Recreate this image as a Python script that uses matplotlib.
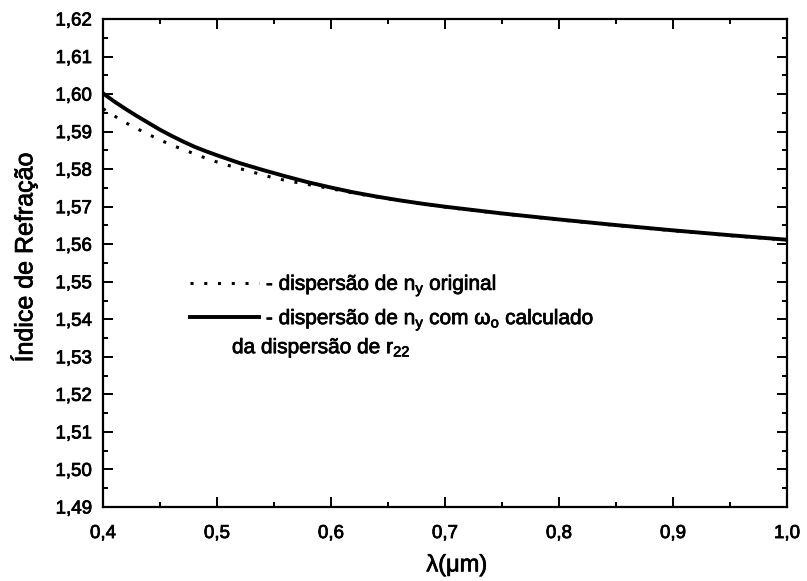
import matplotlib
matplotlib.use("Agg")
import matplotlib.pyplot as plt
import matplotlib.patheffects as pe
from matplotlib.ticker import MultipleLocator, FuncFormatter

plt.rcParams['font.family'] = ['Liberation Sans', 'DejaVu Sans']
plt.rcParams['mathtext.default'] = 'regular'

# dispersão de n_y original (dotted)
lam_orig = [0.400, 0.412, 0.425, 0.437, 0.449, 0.462, 0.474, 0.486, 0.498,
            0.511, 0.523, 0.535, 0.547, 0.560, 0.580, 0.600, 0.620, 0.640,
            0.660, 0.680, 0.700, 0.750, 0.800, 0.850, 0.900, 0.950, 1.000]
n_orig = [1.5961, 1.5938, 1.5915, 1.5897, 1.5879, 1.5862, 1.5848, 1.5834, 1.5821,
          1.5809, 1.5799, 1.5789, 1.5779, 1.5770, 1.5759, 1.5748, 1.5736, 1.5726,
          1.5716, 1.5707, 1.5699, 1.5681, 1.5665, 1.5650, 1.5636, 1.5623, 1.5611]

# dispersão de n_y com omega_o calculado (solid)
lam_calc = [0.40, 0.41, 0.42, 0.43, 0.44, 0.45, 0.46, 0.47, 0.48, 0.49,
            0.50, 0.52, 0.54, 0.56, 0.58, 0.60, 0.62, 0.64, 0.66, 0.68,
            0.70, 0.75, 0.80, 0.85, 0.90, 0.95, 1.00]
n_calc = [1.6002, 1.5980, 1.5960, 1.5941, 1.5923, 1.5905, 1.5889, 1.5874, 1.5860, 1.5848,
          1.5837, 1.5816, 1.5798, 1.5781, 1.5765, 1.5751, 1.5738, 1.5727, 1.5717, 1.5708,
          1.5700, 1.5682, 1.5666, 1.5651, 1.5637, 1.5624, 1.5612]

fig = plt.figure(figsize=(8.07, 5.81), dpi=100)
ax = fig.add_subplot(111)
fig.subplots_adjust(left=0.1276, right=0.9752, top=0.9673, bottom=0.1274)

ax.plot(lam_orig, n_orig, color='black', lw=2.2, linestyle=(0, (1, 3.5)),
        label=r'- dispersão de n$_y$ original')
ax.plot(lam_calc, n_calc, color='black', lw=2.8,
        label=r'- dispersão de n$_y$ com ω$_o$ calculado')

ax.set_xlim(0.4, 1.0)
ax.set_ylim(1.49, 1.62)
ax.xaxis.set_major_locator(MultipleLocator(0.1))
ax.xaxis.set_minor_locator(MultipleLocator(0.05))
ax.yaxis.set_major_locator(MultipleLocator(0.01))
ax.yaxis.set_minor_locator(MultipleLocator(0.005))
ax.xaxis.set_major_formatter(FuncFormatter(lambda v, p: f"{v:.1f}".replace('.', ',')))
ax.yaxis.set_major_formatter(FuncFormatter(lambda v, p: f"{v:.2f}".replace('.', ',')))

ax.tick_params(which='both', direction='in', top=True, right=True, width=1.4)
ax.tick_params(which='major', length=7, labelsize=13.5, pad=8)
ax.tick_params(axis='x', which='major', pad=13)
ax.tick_params(which='minor', length=3.5)
for s in ax.spines.values():
    s.set_linewidth(1.6)

ax.set_xlabel('λ(μm)', fontsize=17)
ax.xaxis.set_label_coords(0.5175, -0.095)
ax.set_ylabel('Índice de Refração', fontsize=18)
ax.yaxis.set_label_coords(-0.096, 0.511)

leg = ax.legend(loc='upper left', bbox_to_anchor=(0.127, 0.48), frameon=False,
                fontsize=15, handlelength=3.3, handletextpad=0.35,
                borderpad=0, borderaxespad=0, labelspacing=0.42)
note = ax.text(0.1886, 0.315, r'da dispersão de r$_{22}$', transform=ax.transAxes,
               fontsize=15, va='baseline', ha='left')

# scanned print looks heavier than plain Arial
heavy = [pe.withStroke(linewidth=0.55, foreground='black')]
texts = [note, ax.xaxis.label, ax.yaxis.label] + leg.get_texts()
texts += ax.get_xticklabels() + ax.get_yticklabels()
for t in texts:
    t.set_path_effects(heavy)

fig.savefig('out.png', dpi=100)
